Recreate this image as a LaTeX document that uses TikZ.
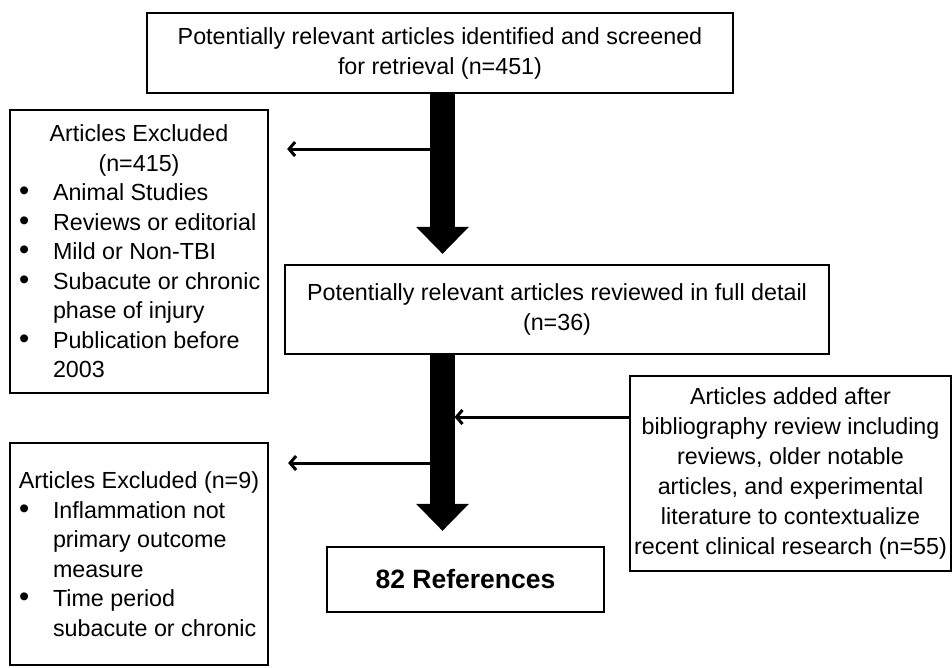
\documentclass[tikz,border=0pt]{standalone}
\usepackage{fontspec}
\setmainfont{Liberation Sans}
\usetikzlibrary{arrows.meta}
\newcommand{\bulitem}[1]{\par\hangindent=37pt\hangafter=1\noindent\makebox[37pt][l]{\hspace{3pt}\scalebox{1.25}{\textbullet}}#1}
\begin{document}
\begin{tikzpicture}[x=1pt,y=-1pt,
  box/.style={draw, line width=2.2pt, inner sep=0pt, align=center, font=\fontsize{23.3}{30}\selectfont},
  listtext/.style={font=\fontsize{23.3}{29.5}\selectfont},
  bigarrow/.style={line width=25pt, -{Triangle[length=27pt,width=51pt]}},
  thinarrow/.style={line width=3pt, -{Straight Barb[length=6pt,width=14pt]}}]
\useasboundingbox (0,0) rectangle (952,667);

\node[box, minimum width=586pt, minimum height=80pt] (top) at (440,53)
  {Potentially relevant articles identified and screened\\for retrieval (n=451)};
\node[box, minimum width=544pt, minimum height=89pt] (mid) at (557,309.5)
  {Potentially relevant articles reviewed in full detail\\(n=36)};
\node[box, minimum width=258pt, minimum height=283pt, listtext] (ex1) at (139,251.5)
  {\parbox{246pt}{\centering Articles Excluded\\(n=415)\par\raggedright
   \bulitem{Animal Studies}
   \bulitem{Reviews or editorial}
   \bulitem{Mild or Non-TBI}
   \bulitem{Subacute or chronic\newline phase of injury}
   \bulitem{Publication before\newline 2003}}};
\node[box, minimum width=258pt, minimum height=222pt, listtext] (ex2) at (139,554)
  {\parbox{246pt}{\centering Articles Excluded (n=9)\par\raggedright
   \bulitem{Inflammation not\newline primary outcome\newline measure}
   \bulitem{Time period\newline subacute or chronic}}};
\node[box, minimum width=321pt, minimum height=195pt] (add) at (790.5,473.5)
  {Articles added after\\bibliography review including\\reviews, older notable\\articles, and experimental\\literature to contextualize\\recent clinical research (n=55)};
\node[box, minimum width=277pt, minimum height=65pt, font=\fontsize{26.5}{30}\selectfont\bfseries] (refs) at (465.5,579.5)
  {82 References};

\coordinate (ax) at (442.5,0);
\draw[bigarrow, shorten >=10pt] (top.south -| ax) -- (mid.north -| ax);
\draw[bigarrow, shorten >=15pt] (mid.south -| ax) -- (refs.north -| ax);

\coordinate (s1) at (430,149);
\coordinate (s2) at (430,463);
\coordinate (s3) at (417,417);
\draw[thinarrow, shorten >=18pt] (s1) -- (ex1.east |- s1);
\draw[thinarrow, shorten >=19pt] (s2) -- (ex2.east |- s2);
\draw[thinarrow, shorten >=12pt] (add.west |- s3) -- (ax |- s3);
\end{tikzpicture}
\end{document}
